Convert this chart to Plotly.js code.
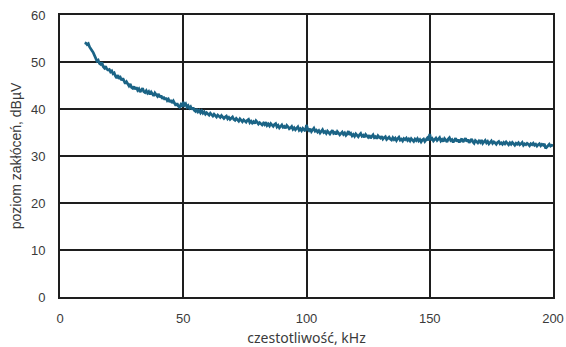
<!DOCTYPE html>
<html>
<head>
<meta charset="utf-8">
<script src="https://cdn.plot.ly/plotly-3.0.1.min.js"></script>
<style>html,body{margin:0;padding:0;background:#fff;}#chart{width:566px;height:347px;}</style>
</head>
<body>
<div id="chart"></div>
<script>
const xStart = 10;
const xStep = 0.5;
const levels = [
  54.1, 54.0, 53.7, 53.9, 53.2, 52.9, 52.4, 52.0, 51.3, 51.0,
  50.2, 50.4, 49.7, 49.5, 49.9, 49.0, 48.7, 49.1, 48.5, 48.3,
  48.4, 47.9, 48.1, 47.5, 47.7, 47.0, 46.6, 47.2, 46.4, 46.7,
  46.1, 46.5, 45.9, 45.4, 45.8, 45.2, 44.9, 45.3, 44.6, 44.4,
  44.8, 44.2, 44.6, 44.0, 44.3, 43.6, 44.1, 44.4, 43.7, 43.5,
  43.9, 43.4, 43.7, 43.1, 43.6, 43.3, 42.8, 43.4, 43.0, 42.7,
  43.2, 42.5, 42.9, 42.2, 42.6, 42.0, 42.4, 41.8, 42.1, 41.5,
  41.9, 41.3, 41.7, 41.0, 40.7, 41.2, 40.6, 40.4, 40.9, 40.5,
  41.5, 40.8, 41.1, 40.4, 40.7, 40.2, 40.5, 39.9, 40.3, 39.7,
  39.5, 40.0, 39.4, 39.7, 39.2, 39.6, 39.1, 39.4, 38.9, 39.2,
  39.0, 38.7, 39.1, 38.8, 38.5, 38.9, 38.6, 38.3, 38.7, 38.5,
  38.2, 38.6, 38.4, 38.0, 38.3, 38.5, 37.9, 38.2, 37.8, 38.1,
  38.3, 37.8, 37.6, 38.0, 37.7, 37.4, 37.9, 37.6, 37.3, 37.7,
  37.5, 37.2, 37.6, 37.8, 37.1, 37.4, 37.0, 37.3, 36.9, 37.5,
  37.2, 36.8, 37.1, 36.9, 36.6, 37.0, 36.7, 37.2, 36.5, 36.8,
  36.4, 36.9, 36.6, 36.3, 36.7, 36.9, 36.2, 36.5, 36.0, 36.4,
  36.6, 36.1, 36.3, 35.9, 36.5, 36.2, 35.8, 36.0, 36.3, 35.7,
  36.0, 35.6, 35.9, 36.2, 35.5, 35.8, 35.4, 35.9, 35.6, 35.3,
  36.6, 35.7, 35.4, 35.8, 35.2, 35.6, 35.9, 35.3, 35.5, 35.1,
  35.4, 34.9, 35.3, 35.6, 35.0, 35.2, 34.8, 35.3, 35.0, 34.7,
  35.1, 35.5, 34.8, 35.0, 34.6, 35.2, 34.9, 34.5, 34.8, 35.1,
  34.6, 34.9, 34.4, 34.7, 35.3, 34.5, 34.8, 34.3, 34.6, 34.2,
  34.7, 34.4, 34.1, 34.5, 34.8, 34.2, 34.4, 34.0, 34.6, 34.3,
  34.0, 34.4, 33.8, 34.2, 34.5, 33.9, 34.1, 33.7, 34.3, 34.0,
  33.8, 34.2, 33.6, 33.9, 34.1, 33.5, 33.8, 34.0, 33.6, 33.4,
  33.9, 33.5, 33.8, 33.3, 33.7, 34.0, 33.4, 33.6, 33.2, 33.7,
  33.5, 33.8, 33.3, 33.6, 33.2, 33.7, 33.4, 33.1, 33.6, 33.3,
  33.7, 33.2, 33.5, 33.0, 33.4, 33.6, 33.1, 33.5, 33.8, 33.3,
  34.7, 33.4, 33.7, 33.2, 33.5, 33.8, 33.3, 33.6, 33.9, 33.2,
  33.5, 33.1, 33.7, 33.4, 33.0, 33.6, 33.9, 33.3, 33.5, 32.9,
  33.4, 33.8, 33.1, 33.5, 32.9, 33.3, 33.7, 33.0, 33.4, 33.8,
  33.1, 33.5, 32.8, 33.2, 33.6, 33.0, 32.7, 33.3, 33.1, 32.8,
  33.2, 32.9, 33.4, 32.7, 33.0, 33.3, 32.8, 33.1, 32.6, 32.9,
  33.2, 32.7, 33.0, 32.8, 32.5, 32.9, 33.1, 32.6, 32.8, 32.5,
  32.9, 32.6, 33.0, 32.7, 32.4, 32.8, 32.5, 32.9, 32.6, 32.3,
  32.7, 32.5, 32.8, 32.4, 32.6, 32.9, 32.3, 32.6, 32.4, 32.7,
  32.5, 32.2, 32.6, 32.4, 32.7, 32.3, 32.5, 32.1, 32.4, 32.6,
  32.2, 32.5, 32.3, 32.6, 31.6, 31.9, 32.4, 32.5, 32.1, 32.3,
  32.2
];
const freqs = levels.map((_, i) => xStart + i * xStep);
const xTicks = [0, 50, 100, 150, 200];
const yTicks = [0, 10, 20, 30, 40, 50, 60];

const gridColor = '#1e1e1e';
const axisCommon = {
  showgrid: true, gridcolor: gridColor, gridwidth: 2,
  showline: true, linecolor: gridColor, linewidth: 2, mirror: true,
  zeroline: false, ticks: '',
  tickfont: {family: 'Liberation Sans, Arial, sans-serif', size: 13, color: '#3a3a3a'}
};

Plotly.newPlot('chart', [{
  x: freqs, y: levels, type: 'scatter', mode: 'lines',
  line: {color: '#1b6486', width: 2.7},
  hoverinfo: 'none'
}], {
  width: 566, height: 347,
  margin: {l: 60, r: 13, t: 15, b: 50},
  paper_bgcolor: '#fff', plot_bgcolor: '#fff',
  showlegend: false,
  xaxis: Object.assign({}, axisCommon, {
    range: [0, 200], tickvals: xTicks, ticktext: xTicks.map(String),
    ticklabelstandoff: 8,
    title: {text: 'czestotliwość, kHz', standoff: 13,
      font: {family: 'Noto Sans, sans-serif', size: 14, color: '#3a3a3a'}}
  }),
  yaxis: Object.assign({}, axisCommon, {
    range: [0, 60], tickvals: yTicks, ticktext: yTicks.map(String),
    ticklabelstandoff: 10,
    title: {text: 'poziom zakłóceń, dBµV', standoff: 6,
      font: {family: 'Liberation Sans, Arial, sans-serif', size: 14, color: '#3a3a3a'}}
  })
}, {staticPlot: true, displayModeBar: false});
</script>
</body>
</html>
